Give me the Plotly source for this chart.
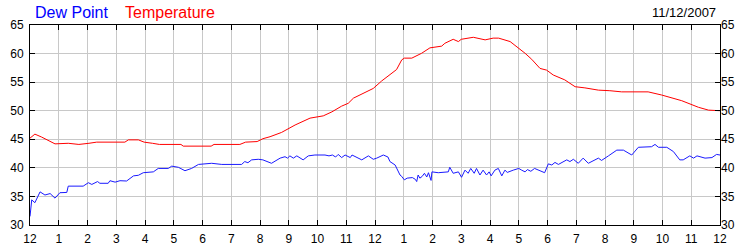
import plotly.graph_objects as go

temp_hours = [0.0, 0.17, 0.4, 0.6, 0.87, 1.33, 1.7, 2.05, 2.32, 3.3, 3.42, 3.77, 3.97, 4.26, 4.5,
              5.25, 5.33, 6.3, 6.4, 7.3, 7.5, 7.9, 8.1, 8.35, 8.75, 9.22, 9.74, 10.2, 10.5, 10.84,
              11.07, 11.25, 11.54, 11.94, 12.23, 12.52, 12.75, 12.93, 13.02, 13.28, 13.62, 13.91,
              14.32, 14.43, 14.72, 14.9, 15.0, 15.42, 15.83, 16.11, 16.3, 16.7, 16.93, 17.22,
              17.45, 17.74, 17.97, 18.2, 18.6, 18.96, 19.3, 19.77, 20.17, 20.58, 21.5, 21.97,
              22.67, 23.25, 23.6, 24.0]
temp_values = [45.2, 45.9, 45.4, 44.9, 44.2, 44.3, 44.1, 44.3, 44.5, 44.5, 44.9, 44.9, 44.5, 44.3, 44.1,
               44.1, 43.8, 43.8, 44.1, 44.1, 44.5, 44.6, 45.1, 45.45, 46.2, 47.5, 48.7, 49.1, 49.8, 50.8,
               51.3, 52.2, 52.9, 53.9, 55.2, 56.4, 57.2, 58.9, 59.2, 59.2, 60.05, 61.0,
               61.3, 61.8, 62.5, 62.1, 62.5, 62.85, 62.4, 62.7, 62.7, 62.1, 61.2, 60.05,
               59.0, 57.4, 57.1, 56.25, 55.4, 54.2, 54.0, 53.6, 53.5, 53.3, 53.3, 52.75,
               51.75, 50.6, 50.1, 50.0]

dew_hours = [0.0, 0.06, 0.17, 0.35, 0.52, 0.7, 0.87, 1.04, 1.28, 1.33, 1.85, 2.03, 2.15, 2.35, 2.43,
             2.72, 2.78, 2.96, 3.13, 3.36, 3.6, 3.77, 3.94, 4.29, 4.46, 4.81, 4.93, 5.16, 5.39, 5.62,
             5.86, 6.32, 6.67, 7.36, 7.47, 7.58, 7.71, 7.94, 8.1, 8.4, 8.7, 8.87, 8.96, 9.04, 9.16,
             9.28, 9.5, 9.68, 9.91, 10.26, 10.4, 10.52, 10.63, 10.72, 10.84, 10.96, 11.14, 11.2,
             11.54, 11.77, 11.94, 12.06, 12.29, 12.45, 12.52, 12.7, 12.87, 12.93, 13.02, 13.12,
             13.3, 13.4, 13.45, 13.5, 13.56, 13.64, 13.72, 13.8, 13.86, 13.95, 13.98, 14.2, 14.55,
             14.6, 14.72, 14.9, 15.01, 15.13, 15.24, 15.33, 15.45, 15.53, 15.65, 15.76, 15.88,
             15.97, 16.04, 16.17, 16.29, 16.41, 16.52, 16.6, 16.81, 17.0, 17.1, 17.22, 17.3,
             17.42, 17.55, 17.9, 18.03, 18.15, 18.26, 18.38, 18.67, 18.78, 18.9, 19.07, 19.24,
             19.42, 19.77, 19.88, 20.12, 20.41, 20.64, 20.76, 20.93, 21.16, 21.45, 21.62, 21.74,
             21.86, 22.15, 22.38, 22.6, 22.72, 22.95, 23.08, 23.2, 23.37, 23.48, 23.72, 23.88, 24.0]
dew_values = [31.5, 34.4, 33.9, 35.8, 35.25, 35.5, 34.7, 35.65, 35.7, 36.8, 36.8, 37.4, 37.1, 37.6, 37.3,
              37.3, 37.75, 37.5, 37.75, 37.7, 38.6, 38.7, 39.15, 39.3, 39.9, 39.9, 40.3, 40.1, 39.5, 39.9,
              40.6, 40.8, 40.6, 40.6, 41.1, 40.9, 41.4, 41.5, 41.4, 40.8, 41.7, 41.95, 41.7, 42.1, 41.7,
              42.1, 41.4, 42.1, 42.25, 42.25, 42.1, 42.25, 41.9, 42.35, 41.8, 42.25, 41.8, 42.25,
              41.4, 42.1, 41.5, 41.7, 42.25, 41.9, 41.1, 40.5, 38.75, 38.5, 37.9, 38.2,
              38.3, 38.0, 37.6, 38.75, 38.2, 38.5, 39.05, 38.4, 39.15, 37.8, 39.3, 39.15, 39.3,
              40.1, 39.05, 39.3, 38.35, 39.6, 39.05, 39.9, 39.05, 39.9, 38.75, 39.6, 38.75,
              39.3, 38.6, 39.6, 39.9, 38.6, 39.6, 39.2, 39.6, 39.9, 39.6, 39.3, 39.7,
              39.4, 39.9, 39.15, 40.7, 40.5, 40.95, 40.6, 41.4, 41.1, 41.5, 40.8, 41.7,
              40.8, 41.7, 41.3, 42.1, 43.1, 43.1, 42.7, 42.25, 43.6, 43.7, 43.7, 44.1,
              43.6, 43.6, 42.85, 41.4, 41.4, 42.1, 41.7, 42.1, 41.8, 41.7, 41.8, 42.35, 42.25]

tick_hours = list(range(25))
tick_labels = ["12", "1", "2", "3", "4", "5", "6", "7", "8", "9", "10", "11",
               "12", "1", "2", "3", "4", "5", "6", "7", "8", "9", "10", "11", "12"]
y_ticks = [30, 35, 40, 45, 50, 55, 60, 65]
date_label = "11/12/2007"
series_names = ["Dew Point", "Temperature"]

FONT = "Arial, 'Liberation Sans', sans-serif"

fig = go.Figure()
fig.add_trace(go.Scatter(x=dew_hours, y=dew_values, mode="lines",
                         line=dict(color="#1a1aff", width=1), name=series_names[0],
                         showlegend=False, hoverinfo="skip"))
fig.add_trace(go.Scatter(x=temp_hours, y=temp_values, mode="lines",
                         line=dict(color="#ff0000", width=1), name=series_names[1],
                         showlegend=False, hoverinfo="skip"))
# invisible trace so the right-hand axis is drawn
fig.add_trace(go.Scatter(x=temp_hours, y=temp_values, mode="lines", yaxis="y2",
                         line=dict(color="rgba(0,0,0,0)", width=0),
                         showlegend=False, hoverinfo="skip"))

fig.update_layout(
    width=750, height=250,
    margin=dict(l=30, r=30, t=25, b=25),
    paper_bgcolor="white", plot_bgcolor="white",
    font=dict(family=FONT, size=12, color="black"),
    xaxis=dict(range=[0, 24], tickvals=tick_hours, ticktext=tick_labels,
               showgrid=True, gridcolor="#c8c8c8", gridwidth=1,
               showline=True, linecolor="black", linewidth=1, mirror="ticks",
               ticks="inside", ticklen=5, tickcolor="black", ticklabelstandoff=3,
               automargin=False,
               zeroline=False, tickfont=dict(size=12, color="black", family=FONT)),
    yaxis=dict(range=[30, 65], tickvals=y_ticks,
               showgrid=True, gridcolor="#c8c8c8", gridwidth=1,
               showline=True, linecolor="black", linewidth=1, mirror="ticks",
               ticks="inside", ticklen=5, tickcolor="black", ticklabelstandoff=3,
               automargin=False,
               zeroline=False, tickfont=dict(size=12, color="black", family=FONT)),
    yaxis2=dict(range=[30, 65], tickvals=y_ticks, overlaying="y", side="right",
                showgrid=False, showline=False, ticks="", zeroline=False,
                automargin=False,
                tickfont=dict(size=12, color="black", family=FONT)),
    annotations=[
        dict(text=series_names[0], x=0.0043, y=1.065, xref="paper", yref="paper",
             xanchor="left", yanchor="middle", showarrow=False,
             font=dict(size=16, color="#0000ff", family=FONT)),
        dict(text=series_names[1], x=0.1348, y=1.065, xref="paper", yref="paper",
             xanchor="left", yanchor="middle", showarrow=False,
             font=dict(size=16, color="#ff0000", family=FONT)),
        dict(text=date_label, x=0.997, y=1.065, xref="paper", yref="paper",
             xanchor="right", yanchor="middle", showarrow=False,
             font=dict(size=13, color="black", family=FONT)),
    ],
)

fig.write_html("out.html")
